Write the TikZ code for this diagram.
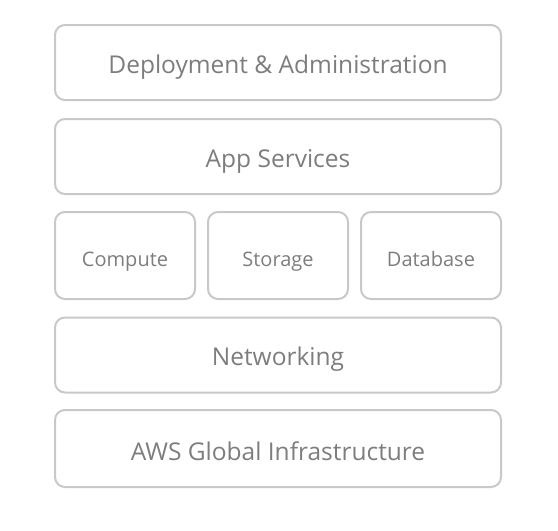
\documentclass[tikz,border=0pt]{standalone}
\usepackage{fontspec}
\setmainfont{Open Sans}
\definecolor{bord}{RGB}{200,200,200}
\definecolor{texte}{RGB}{125,125,125}
\begin{document}
\begin{tikzpicture}[x=1pt, y=-1pt]
\tikzset{couche/.style={draw=bord, line width=2pt, rounded corners=10pt, text=texte, font=\fontsize{24.5}{28}\selectfont, minimum width=446pt, minimum height=75pt, inner sep=0pt, text height=21pt, text depth=0pt},
bloc/.style={couche, minimum width=140pt, minimum height=87pt, font=\fontsize{20}{23}\selectfont}}
\useasboundingbox (0, 0) rectangle (558, 531);
\node[couche] (D) at (278, 62.5) {Deployment \& Administration};
\node[couche] (A) at (278, 156.5) {App Services};
\node[bloc] (C) at (125, 255.5) {Compute};
\node[bloc] (S) at (278, 255.5) {Storage};
\node[bloc] (B) at (431, 255.5) {Database};
\node[couche] (N) at (278, 355) {Networking};
\node[couche, minimum height=77pt, text height=23pt] (G) at (278, 448.5) {AWS Global Infrastructure};
\end{tikzpicture}
\end{document}
